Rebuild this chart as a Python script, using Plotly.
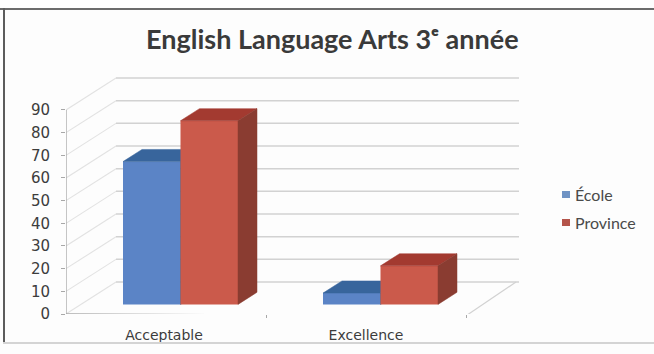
import plotly.graph_objects as go

categories = ["Acceptable", "Excellence"]
ecole = [63, 5]
province = [81, 17]
y_ticks = [0, 10, 20, 30, 40, 50, 60, 70, 80, 90]

# Oblique projection of the 3D box: one unit of depth shifts right and up
DEPTH_X = 0.25
DEPTH_Y = 14.1
WALL_END = 2.0
BAR_WIDTH = 0.2875
BAR_NEAR = 0.30
BAR_FAR = 0.68

# Plot area geometry in page pixels
WIDTH, HEIGHT = 654, 354
LEFT, BOTTOM = 66, 40
PLOT_W = WIDTH - LEFT
PLOT_H = HEIGHT - BOTTOM
PX_PER_X = 200
PX_PER_Y = 2.267

GRID = "#d2d2d2"
AXIS = "#a8a8a8"


def project(x, y, depth):
    return x + depth * DEPTH_X, y + depth * DEPTH_Y


def line(xs, ys, color, width=1.3):
    return go.Scatter(x=xs, y=ys, mode="lines", line=dict(color=color, width=width),
                      hoverinfo="skip", showlegend=False, cliponaxis=False)


def face(points, color, xaxis, yaxis):
    xs = [p[0] for p in points] + [points[0][0]]
    ys = [p[1] for p in points] + [points[0][1]]
    return go.Scatter(x=xs, y=ys, mode="lines", fill="toself", fillcolor=color,
                      line=dict(color=color, width=0.5), hoverinfo="skip",
                      showlegend=False, xaxis=xaxis, yaxis=yaxis)


fig = go.Figure()

# Side wall and back wall gridlines
for v in y_ticks:
    bx, by = project(0, v, 1)
    fig.add_trace(line([0, bx], [v, by], "#e2e2e2", 1.1))
    fig.add_trace(line([bx, WALL_END + DEPTH_X + 0.015], [by, by], GRID, 1.5))

# Floor outline and front axes
fx, fy = project(WALL_END, 0, 1)
fig.add_trace(line([WALL_END, fx], [-0.8, fy], GRID, 1.2))
fig.add_trace(line([0, WALL_END], [0, -0.8], AXIS, 1.3))
fig.add_trace(line([0, 0], [0, 90], AXIS, 1.3))


def add_bar(left, value, name, front, top, side, xaxis, yaxis):
    right = left + BAR_WIDTH
    low = project(0, 0, BAR_NEAR)[1]
    x0 = project(left, 0, BAR_NEAR)[0]
    x1 = project(right, 0, BAR_NEAR)[0]
    high = low + value
    dx = (BAR_FAR - BAR_NEAR) * DEPTH_X
    dy = (BAR_FAR - BAR_NEAR) * DEPTH_Y
    fig.add_trace(go.Bar(x=[(x0 + x1) / 2], y=[value], base=[low], width=[BAR_WIDTH],
                         name=name, marker=dict(color=front, line=dict(width=0)),
                         showlegend=False, xaxis=xaxis, yaxis=yaxis))
    fig.add_trace(face([(x0, high), (x1, high), (x1 + dx, high + dy), (x0 + dx, high + dy)],
                       top, xaxis, yaxis))
    fig.add_trace(face([(x1, low), (x1 + dx, low + dy), (x1 + dx, high + dy), (x1, high)],
                       side, xaxis, yaxis))


# Each series sits on its own overlaid axes so that it paints over the one behind it
for i in range(len(categories)):
    left = i + 0.21
    add_bar(left, ecole[i], "École", "#5b84c6", "#38659c", "#2f5688", "x2", "y2")
    add_bar(left + BAR_WIDTH, province[i], "Province", "#cb5a4b", "#a33a30", "#8a3c31", "x3", "y3")

# Legend swatches and page frame, placed in page pixels


def paper_x(px):
    return (px - LEFT) / PLOT_W


def paper_y(py):
    return (PLOT_H - py) / PLOT_H


def box(x0, y0, x1, y1, color):
    return dict(type="rect", xref="paper", yref="paper", layer="above",
                x0=paper_x(x0), x1=paper_x(x1), y0=paper_y(y0), y1=paper_y(y1),
                fillcolor=color, line=dict(width=0))


shapes = [
    box(562, 191, 570, 198, "#6f93c4"),
    box(562, 219, 570, 226, "#b4544a"),
    box(0, 8, 654, 10, "#6a6a6a"),
    box(3, 8, 5, 342, "#5c5c5c"),
    box(3, 342, 654, 344, "#d4d4d4"),
]

annotations = [
    dict(text="École", x=paper_x(573), y=paper_y(194), xref="paper", yref="paper",
         xanchor="left", yanchor="middle", showarrow=False,
         font=dict(family="Lato", size=16, color="#4a4a4a")),
    dict(text="Province", x=paper_x(573), y=paper_y(223), xref="paper", yref="paper",
         xanchor="left", yanchor="middle", showarrow=False,
         font=dict(family="Lato", size=16, color="#4a4a4a")),
    dict(text="English Language Arts 3ᵉ année", x=paper_x(332), y=paper_y(39),
         xref="paper", yref="paper", xanchor="center", yanchor="middle", showarrow=False,
         font=dict(family="Lato", size=27, color="#3a3a3a", weight="bold")),
]

x_range = [0, PLOT_W / PX_PER_X]
y_range = [0, PLOT_H / PX_PER_Y]
hidden = dict(visible=False, fixedrange=True)

fig.update_layout(
    width=WIDTH, height=HEIGHT,
    margin=dict(l=LEFT, r=0, t=0, b=BOTTOM, pad=0),
    paper_bgcolor="#fdfdfd", plot_bgcolor="rgba(0,0,0,0)",
    barmode="overlay", showlegend=False,
    shapes=shapes, annotations=annotations,
    xaxis=dict(range=x_range, showgrid=False, zeroline=False,
               showline=False, tickmode="array", tickvals=[0.49, 1.5], ticktext=categories,
               ticks="outside", ticklen=8, tickcolor="rgba(0,0,0,0)",
               minor=dict(tickmode="array", tickvals=[1, 2], ticks="outside", ticklen=3,
                          tickcolor=AXIS, showgrid=False),
               tickfont=dict(family="DejaVu Sans", size=14, color="#3c3c3c")),
    yaxis=dict(range=y_range, showgrid=False, zeroline=False,
               showline=False, tickmode="array", tickvals=y_ticks,
               ticks="outside", ticklen=4, tickcolor=AXIS, ticklabelstandoff=8,
               tickfont=dict(family="DejaVu Sans", size=15, color="#3c3c3c")),
    xaxis2=dict(range=x_range, overlaying="x", anchor="y2", **hidden),
    yaxis2=dict(range=y_range, overlaying="y", anchor="x2", **hidden),
    xaxis3=dict(range=x_range, overlaying="x", anchor="y3", **hidden),
    yaxis3=dict(range=y_range, overlaying="y", anchor="x3", **hidden),
)

fig.write_html("out.html", config=dict(displayModeBar=False))
